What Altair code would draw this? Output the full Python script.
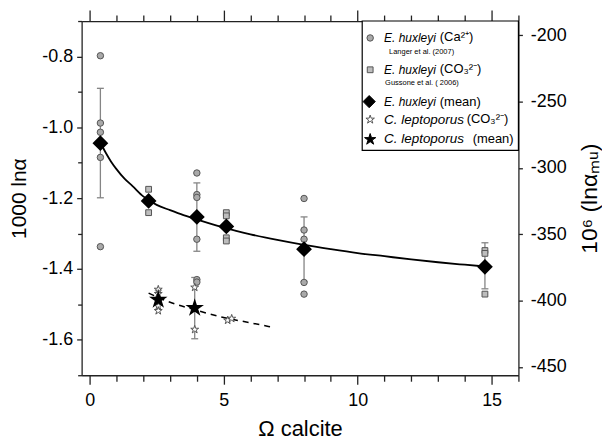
import altair as alt
import pandas as pd

# ---------------- data ----------------
# E. huxleyi (Ca2+), Langer et al. (2007)
circ_x = [0.4, 0.4, 0.4, 0.4, 0.4, 4.0, 4.0, 4.0, 4.0, 4.0, 4.0, 8.0, 8.0, 8.0, 8.0, 8.0]
circ_y = [-0.798, -0.988, -1.014, -1.085, -1.337,
          -1.129, -1.190, -1.198, -1.316, -1.430, -1.437,
          -1.201, -1.290, -1.316, -1.438, -1.471]
# E. huxleyi (CO3 2-), Gussone et al. (2006)
sq_x = [2.2, 2.2, 5.1, 5.1, 5.1, 5.1, 14.75, 14.75, 14.75]
sq_y = [-1.175, -1.241, -1.241, -1.250, -1.312, -1.321, -1.348, -1.356, -1.471]
# E. huxleyi mean
mean_x = [0.4, 2.2, 4.0, 5.1, 8.0, 14.75]
mean_y = [-1.045, -1.208, -1.253, -1.280, -1.344, -1.394]
err_x = [0.4, 4.0, 8.0, 14.75]
err_lo = [-1.199, -1.350, -1.435, -1.456]
err_hi = [-0.890, -1.157, -1.253, -1.326]
# fitted curve for E. huxleyi
curve_x = [0.4, 0.6, 0.8, 1.0, 1.3, 1.6, 2.0, 2.5, 3.0, 3.5, 4.0, 5.0, 6.0, 7.0,
           8.0, 9.0, 10.0, 11.0, 12.0, 13.0, 14.0, 14.75]
curve_y = [-1.043, -1.072, -1.097, -1.118, -1.145, -1.166, -1.195, -1.219, -1.234,
           -1.248, -1.260, -1.283, -1.302, -1.318, -1.332, -1.344, -1.355, -1.364,
           -1.373, -1.381, -1.388, -1.393]
# C. leptoporus (CO3 2-)
lep_x = [2.56, 2.56, 2.56, 2.56, 3.92, 3.92, 5.15, 5.3]
lep_y = [-1.458, -1.470, -1.505, -1.518, -1.452, -1.571, -1.545, -1.540]
# C. leptoporus mean
lepm_x = [2.56, 3.92]
lepm_y = [-1.487, -1.510]
lepe_lo = [-1.515, -1.597]
lepe_hi = [-1.460, -1.424]
# dashed fit for C. leptoporus
dash_x = [2.2, 3.0, 4.0, 5.0, 6.0, 6.85]
dash_y = [-1.468, -1.494, -1.517, -1.537, -1.552, -1.565]

# axis tick values
x_major = [0, 5, 10, 15]
x_minor = [1, 2, 3, 4, 6, 7, 8, 9, 11, 12, 13, 14, 16]
y_major = [-0.8, -1.0, -1.2, -1.4, -1.6]
y_minor = [-0.7, -0.9, -1.1, -1.3, -1.5, -1.7]
yr_ticks = [-200, -250, -300, -350, -400, -450]

# ---------------- tables ----------------
circ_df = pd.DataFrame({"x": circ_x, "y": circ_y})
sq_df = pd.DataFrame({"x": sq_x, "y": sq_y})
mean_df = pd.DataFrame({"x": mean_x, "y": mean_y})
err_df = pd.DataFrame({"x": err_x, "lo": err_lo, "hi": err_hi})
curve_df = pd.DataFrame({"x": curve_x, "y": curve_y})
lep_df = pd.DataFrame({"x": lep_x, "y": lep_y})
lepm_df = pd.DataFrame({"x": lepm_x, "y": lepm_y})
lepe_df = pd.DataFrame({"x": lepm_x, "lo": lepe_lo, "hi": lepe_hi})
dash_df = pd.DataFrame({"x": dash_x, "y": dash_y})
dummy = pd.DataFrame({"x": [0.0], "y": [-1.0], "yr": [-300.0]})
one = pd.DataFrame({"d": [0]})

FONT = "Liberation Sans"
MINUS = "replace(datum.label, '\u2212', '-')"
STAR = ("M0,-1L0.225,-0.309L0.951,-0.309L0.363,0.118L0.588,0.809L0,0.382"
        "L-0.588,0.809L-0.363,0.118L-0.951,-0.309L-0.225,-0.309Z")
CAP = "M-1,0L1,0"

xs = alt.Scale(domain=[-0.3, 16], nice=False, zero=False)
ys = alt.Scale(domain=[-1.7, -0.7], nice=False, zero=False)
yrs = alt.Scale(domain=[-456.2, -189.2], nice=False, zero=False)


def X(field, axis=None):
    return alt.X(f"{field}:Q", scale=xs, axis=axis)


def Y(field, axis=None):
    return alt.Y(f"{field}:Q", scale=ys, axis=axis)


# ---------------- data layers ----------------
curve = alt.Chart(curve_df).mark_line(color="black", strokeWidth=1.8, interpolate="monotone").encode(
    x=X("x"), y=Y("y"))

err_rule = alt.Chart(err_df).mark_rule(color="#858585", strokeWidth=1.3).encode(
    x=X("x"), y=Y("lo"), y2=alt.Y2("hi:Q"))
cap = dict(shape=CAP, size=49, filled=False, stroke="#858585", strokeWidth=1.3, opacity=1)
err_cap_lo = alt.Chart(err_df).mark_point(**cap).encode(x=X("x"), y=Y("lo"))
err_cap_hi = alt.Chart(err_df).mark_point(**cap).encode(x=X("x"), y=Y("hi"))

lepe_rule = alt.Chart(lepe_df).mark_rule(color="#858585", strokeWidth=1.3).encode(
    x=X("x"), y=Y("lo"), y2=alt.Y2("hi:Q"))
lepe_cap_lo = alt.Chart(lepe_df).mark_point(**cap).encode(x=X("x"), y=Y("lo"))
lepe_cap_hi = alt.Chart(lepe_df).mark_point(**cap).encode(x=X("x"), y=Y("hi"))

circles = alt.Chart(circ_df).mark_point(shape="circle", filled=True, fill="#a9a9a9", stroke="#555555",
                                        strokeWidth=1, size=42, opacity=1).encode(x=X("x"), y=Y("y"))
squares = alt.Chart(sq_df).mark_point(shape="square", filled=True, fill="#bdbdbd", stroke="#555555",
                                      strokeWidth=1, size=34, opacity=1).encode(x=X("x"), y=Y("y"))
diamonds = alt.Chart(mean_df).mark_point(shape="diamond", filled=True, fill="black", stroke="black",
                                         size=170, opacity=1).encode(x=X("x"), y=Y("y"))
dashed = alt.Chart(dash_df).mark_line(color="black", strokeWidth=1.5, strokeDash=[6, 5],
                                      interpolate="monotone").encode(x=X("x"), y=Y("y"))
open_stars = alt.Chart(lep_df).mark_point(shape=STAR, filled=True, fill="white", stroke="#555555",
                                          strokeWidth=1, size=70, opacity=1).encode(x=X("x"), y=Y("y"))
mean_stars = alt.Chart(lepm_df).mark_point(shape=STAR, filled=True, fill="black", stroke="black",
                                           size=170, opacity=1).encode(x=X("x"), y=Y("y"))


# ---------------- legend ----------------
def ltext(s, x, y, size=13, style="normal"):
    return alt.Chart(one).mark_text(text=s, align="left", baseline="middle", font=FONT, fontSize=size,
                                    fontStyle=style, color="black").encode(x=alt.value(x), y=alt.value(y))


def lsym(shape, x, y, size, fill, stroke):
    return alt.Chart(one).mark_point(shape=shape, filled=True, size=size, fill=fill, stroke=stroke,
                                     strokeWidth=1, opacity=1).encode(x=alt.value(x), y=alt.value(y))


legend_box = alt.Chart(one).mark_rect(fill="white", stroke="black", strokeWidth=1.2).encode(
    x=alt.value(282), x2=alt.value(439), y=alt.value(0), y2=alt.value(130))

legend = [
    legend_box,
    lsym("circle", 290, 17, 42, "#a9a9a9", "#555555"),
    ltext("E. huxleyi", 304, 17, 12, "italic"),
    ltext("(Ca²⁺)", 360, 16),
    ltext("Langer et al. (2007)", 309, 31, 7.5),
    lsym("square", 290, 49, 34, "#bdbdbd", "#555555"),
    ltext("E. huxleyi", 304, 49, 12, "italic"),
    ltext("(CO₃²⁻)", 360, 48),
    ltext("Gussone et al. ( 2006)", 305, 62, 7.5),
    lsym("diamond", 289, 81, 150, "black", "black"),
    ltext("E. huxleyi", 304, 81, 12, "italic"),
    ltext("(mean)", 360, 81),
    lsym(STAR, 290, 99, 80, "white", "#555555"),
    ltext("C. leptoporus", 304, 99, 13.5, "italic"),
    ltext("(CO₃²⁻)", 387, 98),
    lsym(STAR, 290, 119, 140, "black", "black"),
    ltext("C. leptoporus", 304, 119, 13.5, "italic"),
    ltext("(mean)", 393, 119),
]

inner = alt.layer(err_rule, err_cap_lo, err_cap_hi, lepe_rule, lepe_cap_lo, lepe_cap_hi,
                  curve, dashed, circles, squares, diamonds, open_stars, mean_stars, *legend)

# ---------------- axes (each on an invisible layer) ----------------
ghost = dict(opacity=0, size=1)


def xaxis_layer(axis):
    return alt.Chart(dummy).mark_point(**ghost).encode(x=X("x", axis), y=Y("y"))


def yaxis_layer(axis):
    return alt.Chart(dummy).mark_point(**ghost).encode(x=X("x"), y=Y("y", axis))


ax_bottom_major = xaxis_layer(alt.Axis(orient="bottom", values=x_major, format="d", tickSize=9,
                                       labelPadding=7, title="Ω calcite", titlePadding=10,
                                       titleFontSize=22))
ax_bottom_minor = xaxis_layer(alt.Axis(orient="bottom", values=x_minor, tickSize=6, labels=False,
                                       domain=False, title=None))
ax_top_major = xaxis_layer(alt.Axis(orient="top", values=x_major, tickSize=11, labels=False,
                                    domain=True, title=None))
ax_top_minor = xaxis_layer(alt.Axis(orient="top", values=x_minor, tickSize=6, labels=False,
                                    domain=False, title=None))
ax_left_major = yaxis_layer(alt.Axis(orient="left", values=y_major, format=".1f", tickSize=5,
                                     labelPadding=4, labelExpr=MINUS, title="1000 lnα", titlePadding=12))
ax_left_minor = yaxis_layer(alt.Axis(orient="left", values=y_minor, tickSize=4, labels=False,
                                     domain=False, title=None))
ax_right = alt.Chart(dummy).mark_point(**ghost).encode(
    x=X("x"),
    y=alt.Y("yr:Q", scale=yrs,
            axis=alt.Axis(orient="right", values=yr_ticks, tickSize=4, labelPadding=8, labelExpr=MINUS,
                          title="10⁶ (lnαₘᵤ)", titlePadding=12, titleFontSize=23,
                          titleAngle=270, titleBaseline="top")))

chart = alt.layer(inner, ax_bottom_major, ax_bottom_minor, ax_top_major, ax_top_minor,
                  ax_left_major, ax_left_minor, ax_right).resolve_scale(
    y="independent").resolve_axis(x="independent", y="independent").properties(
    width=439, height=356, padding={"left": 0, "top": 0, "right": 0, "bottom": 0}
).configure_view(stroke=None).configure_axis(
    grid=False, domainColor="#222222", domainWidth=1.3, tickColor="#222222", tickWidth=1.3,
    labelFont=FONT, labelFontSize=18, labelColor="black",
    titleFont=FONT, titleFontSize=21, titleFontWeight="normal", titleColor="black")

chart.save("out.html", embed_options={"renderer": "svg", "actions": False})
